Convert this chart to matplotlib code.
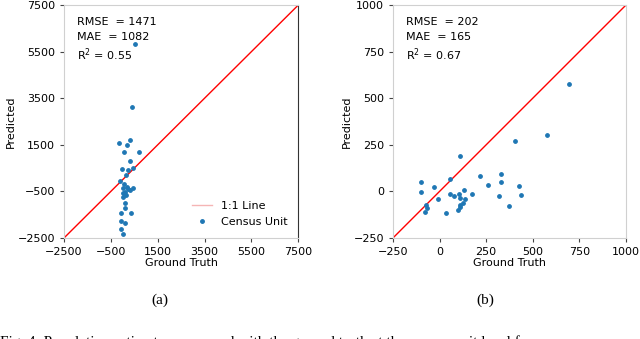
import numpy as np
import matplotlib
matplotlib.use("Agg")
import matplotlib.pyplot as plt
from matplotlib.lines import Line2D

# panel (a) - census units
gt_a = [534, 406, -135, 320, 206, 64, 719, 320, -36, 434, 249, 135, -107, 64, 178,
        35, 249, 463, 320, 107, 7, 149, 35, 107, 107, -78, 349, -78, 107, -78, 35]
pred_a = [5812, 3108, 1563, 1706, 1491, 1205, 1205, 820, 461, 504, 418, 204, -54, -197, -297,
          -368, -411, -340, -440, -512, -555, -654, -726, -983, -1227, -1441, -1441, -1756, -1842, -2113, -2328]
stats_a = ["RMSE  = 1471", "MAE  = 1082", "R$^2$ = 0.55"]
ticks_a = [-2500, -500, 1500, 3500, 5500, 7500]

# panel (b)
gt_b = [697, 579, 404, 108, -98, -100, -30, 58, -74, -67, -78, -10, 37, 54, 76, 105, 108,
        130, 137, 126, 112, 108, 99, 176, 219, 262, 328, 332, 319, 371, 427, 439]
pred_b = [574, 301, 270, 190, 49, -5, 25, 67, -73, -91, -111, -41, -114, -16, -23, -14, -37,
          6, -39, -60, -73, -86, -100, -16, 81, 34, 92, 49, -23, -77, 31, -20]
stats_b = ["RMSE  = 202", "MAE  = 165", "R$^2$ = 0.67"]
ticks_b = [-250, 0, 250, 500, 750, 1000]

fig = plt.figure(figsize=(6.4, 3.39), dpi=100)
ax1 = fig.add_axes([0.1, 0.298, 0.366, 0.687])
ax2 = fig.add_axes([0.614, 0.298, 0.364, 0.687])

def panel(ax, gt, pred, stats, ticks, legend=False):
    lo, hi = ticks[0], ticks[-1]
    ax.plot([lo, hi], [lo, hi], color="red", lw=1, label="1:1 Line")
    ax.scatter(gt, pred, s=6, color="#1f77b4", zorder=3, label="Census Unit")
    ax.set_xlim(lo, hi)
    ax.set_ylim(lo, hi)
    ax.set_xticks(ticks)
    ax.set_yticks(ticks)
    ax.tick_params(labelsize=8, length=3, color="#444444")
    ax.set_xlabel("Ground Truth", fontsize=8, labelpad=1)
    ax.set_ylabel("Predicted", fontsize=8, labelpad=1)
    for s in ax.spines.values():
        s.set_color("#d0d0d0")
    for i, t in enumerate(stats):
        ax.text(0.055, 0.95 - i * 0.064, t, transform=ax.transAxes, fontsize=8, va="top")
    if legend:
        handles = [Line2D([], [], color="#f5b5b5", lw=1),
                   Line2D([], [], marker="o", ls="", ms=2.5, color="#1f77b4")]
        ax.legend(handles, ["1:1 Line", "Census Unit"], loc="lower right", frameon=False,
                  fontsize=8, handlelength=1.8, borderaxespad=0.6)

panel(ax1, gt_a, pred_a, stats_a, ticks_a, legend=True)
ax1.spines["right"].set_color("#333333")
panel(ax2, gt_b, pred_b, stats_b, ticks_b)

fig.text(0.25, 0.105, "(a)", fontsize=11, family="Liberation Serif", ha="center")
fig.text(0.758, 0.105, "(b)", fontsize=11, family="Liberation Serif", ha="center")
fig.text(0.0, -0.02, "Fig. 4: Population estimates compared with the ground truth at the census unit level f",
         fontsize=11, family="Liberation Serif", ha="left")

fig.savefig("out.png", dpi=100)
